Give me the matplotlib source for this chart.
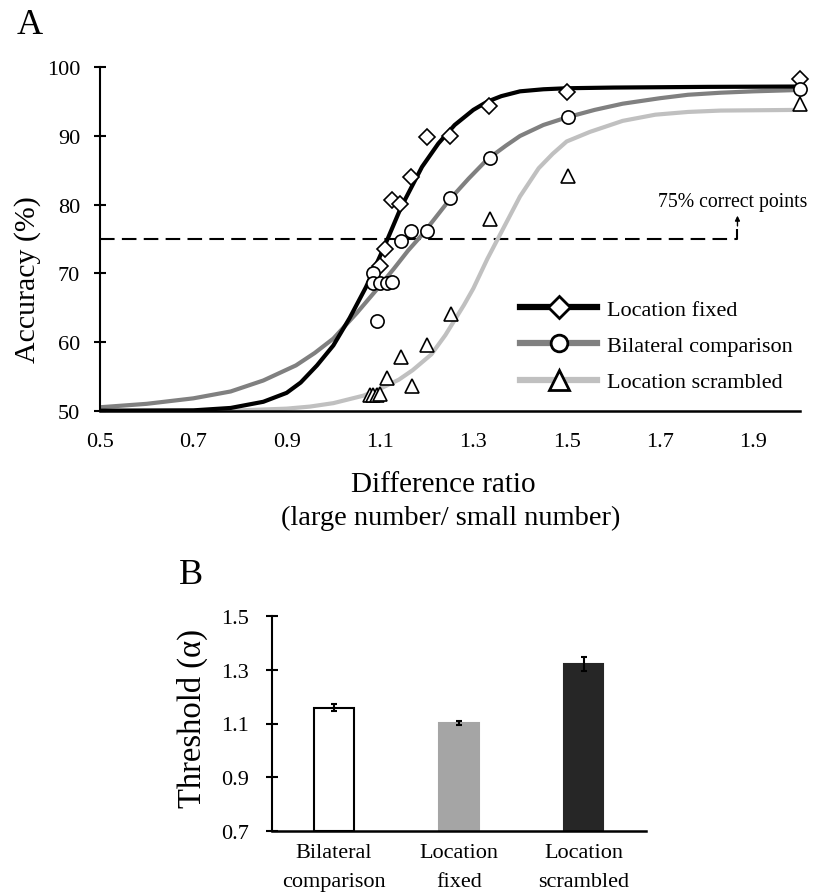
import matplotlib
matplotlib.use('Agg')
import matplotlib.pyplot as plt
from matplotlib.lines import Line2D

plt.rcParams['font.family'] = ['Liberation Serif', 'DejaVu Serif']

# --- panel A: observed accuracy per difference ratio ---
ratio_fixed = [1.100, 1.111, 1.125, 1.143, 1.167, 1.200, 1.250, 1.333, 1.500, 2.000]
acc_fixed = [71.0, 73.5, 80.7, 80.1, 84.1, 89.8, 90.0, 94.4, 96.4, 98.3]

ratio_bilat = [1.084, 1.086, 1.094, 1.101, 1.114, 1.126, 1.144, 1.167, 1.201, 1.251, 1.336, 1.502, 2.000]
acc_bilat = [70.0, 68.6, 63.1, 68.6, 68.6, 68.7, 74.7, 76.2, 76.2, 80.9, 86.8, 92.7, 96.9]

ratio_scram = [1.079, 1.086, 1.094, 1.101, 1.114, 1.144, 1.169, 1.201, 1.253, 1.336, 1.502, 2.000]
acc_scram = [52.3, 52.3, 52.3, 52.5, 54.7, 57.8, 53.6, 59.5, 64.1, 77.9, 84.2, 94.7]

# fitted psychometric curves
fit_fixed_x = [0.50, 0.70, 0.78, 0.85, 0.90, 0.93, 0.965, 1.00, 1.035, 1.07, 1.11, 1.145, 1.19,
               1.225, 1.26, 1.30, 1.33, 1.36, 1.40, 1.45, 1.50, 1.60, 1.70, 1.80, 2.00]
fit_fixed_y = [50.0, 50.05, 50.4, 51.3, 52.6, 54.1, 56.6, 59.5, 63.5, 68.0, 74.0, 79.6, 85.5,
               88.9, 91.6, 93.8, 95.0, 95.8, 96.5, 96.8, 96.95, 97.05, 97.1, 97.15, 97.2]

fit_bilat_x = [0.50, 0.60, 0.70, 0.78, 0.85, 0.92, 0.96, 1.00, 1.05, 1.09, 1.13, 1.16, 1.19, 1.22,
               1.25, 1.29, 1.33, 1.37, 1.40, 1.45, 1.50, 1.56, 1.62, 1.70, 1.76, 1.83, 1.90, 2.00]
fit_bilat_y = [50.5, 51.0, 51.8, 52.8, 54.4, 56.6, 58.4, 60.5, 64.2, 67.4, 70.7, 73.3, 75.6, 78.2,
               80.8, 83.8, 86.6, 88.6, 90.0, 91.6, 92.7, 93.8, 94.7, 95.5, 96.0, 96.3, 96.5, 96.7]

fit_scram_x = [0.50, 0.80, 0.90, 0.95, 1.00, 1.065, 1.10, 1.14, 1.17, 1.21, 1.24, 1.28, 1.30,
               1.33, 1.35, 1.38, 1.40, 1.44, 1.47, 1.50, 1.55, 1.62, 1.69, 1.76, 1.83, 2.00]
fit_scram_y = [50.0, 50.05, 50.3, 50.6, 51.1, 52.2, 53.2, 54.5, 55.9, 58.2, 61.0, 65.4, 67.8,
               72.1, 74.7, 78.6, 81.2, 85.3, 87.4, 89.2, 90.6, 92.2, 93.1, 93.5, 93.7, 93.8]

x_ticks = [0.5, 0.7, 0.9, 1.1, 1.3, 1.5, 1.7, 1.9]
y_ticks = [50, 60, 70, 80, 90, 100]

# --- panel B: thresholds ---
conditions = ['Bilateral\ncomparison', 'Location\nfixed', 'Location\nscrambled']
threshold = [1.159, 1.103, 1.323]
threshold_err = [0.012, 0.007, 0.026]
bar_colors = ['white', '#a5a5a5', '#262626']
b_ticks = [0.7, 0.9, 1.1, 1.3, 1.5]

W, H = 814, 895
fig = plt.figure(figsize=(W / 100, H / 100), dpi=100)

def fx(px):
    return px / W

def fy(py):
    return 1 - py / H

# ---------- panel A ----------
ax = fig.add_axes([fx(100), fy(411.7), fx(800) - fx(100), fy(68.3) - fy(411.7)])
ax.plot(fit_scram_x, fit_scram_y, color='#c0c0c0', lw=3.0, zorder=2, solid_capstyle='butt')
ax.plot(fit_bilat_x, fit_bilat_y, color='#808080', lw=3.0, zorder=2, solid_capstyle='butt')
ax.plot(fit_fixed_x, fit_fixed_y, color='black', lw=3.0, zorder=2, solid_capstyle='butt')

mk = dict(linestyle='none', markerfacecolor='white', markeredgecolor='black',
          markeredgewidth=1.2, zorder=4, clip_on=False)
ax.plot(ratio_fixed, acc_fixed, marker='D', markersize=7.8, **mk)
ax.plot(ratio_bilat, acc_bilat, marker='o', markersize=9.5, **mk)
ax.plot(ratio_scram, acc_scram, marker='^', markersize=10.5, **mk)

# 75% guide line with arrow
ax.plot([0.5, 1.866, 1.866], [75, 75, 76.4], color='black', lw=1.5,
        dashes=(7, 3.5), zorder=1, clip_on=False)
ax.annotate('', xy=(1.866, 78.4), xytext=(1.866, 76.9),
            arrowprops=dict(arrowstyle='-|>', color='black', lw=1, mutation_scale=7,
                            shrinkA=0, shrinkB=0), annotation_clip=False)
ax.text(1.695, 80.5, '75% correct points', fontsize=14.2, ha='left', va='center', clip_on=False)

ax.set_xlim(0.5, 2.0)
ax.set_ylim(50, 100)
ax.set_xticks(x_ticks)
ax.set_xticklabels([f'{v:.1f}' for v in x_ticks])
ax.set_yticks(y_ticks)
ax.spines['top'].set_visible(False)
ax.spines['right'].set_visible(False)
ax.spines['left'].set_linewidth(1.5)
ax.spines['bottom'].set_linewidth(1.8)
ax.tick_params(axis='x', length=0, pad=15, labelsize=16)
ax.tick_params(axis='y', direction='inout', length=8.5, width=1.5, pad=10, labelsize=16)

handles = [
    Line2D([], [], color='black', lw=4.5, marker='D', markersize=11.5,
           markerfacecolor='white', markeredgecolor='black', markeredgewidth=2),
    Line2D([], [], color='#808080', lw=4.5, marker='o', markersize=12,
           markerfacecolor='white', markeredgecolor='black', markeredgewidth=2),
    Line2D([], [], color='#c0c0c0', lw=4.5, marker='^', markersize=14,
           markerfacecolor='white', markeredgecolor='black', markeredgewidth=2),
]
labels = ['Location fixed', 'Bilateral comparison', 'Location scrambled']
fig.legend(handles, labels, loc='upper left', bbox_to_anchor=(fx(520), fy(300.5)),
           frameon=False, fontsize=16, handlelength=3.47, handletextpad=0.44,
           labelspacing=0.7, borderpad=0, borderaxespad=0)

fig.text(fx(28), fy(279.5), 'Accuracy (%)', rotation=90, fontsize=21.5, ha='center', va='center')
fig.text(fx(443), fy(485), 'Difference ratio', fontsize=21, ha='center', va='center')
fig.text(fx(451), fy(518), '(large number/ small number)', fontsize=20.5, ha='center', va='center')
fig.text(fx(30), fy(25), 'A', fontsize=26, ha='center', va='center')

# ---------- panel B ----------
bx = fig.add_axes([fx(271.7), fy(831.7), fx(646) - fx(271.7), fy(617.3) - fy(831.7)])
pos = range(len(conditions))
bx.bar(pos, [t - 0.7 for t in threshold], bottom=0.7, width=0.316, color=bar_colors,
       edgecolor=['black', '#a5a5a5', '#262626'], linewidth=1.5, zorder=2)
bx.errorbar(pos, threshold, yerr=threshold_err, fmt='none', ecolor='black',
            elinewidth=1.5, capsize=2.5, capthick=1.5, zorder=3)
bx.set_xlim(-0.5, 2.5)
bx.set_ylim(0.7, 1.5)
bx.set_yticks(b_ticks)
bx.set_yticklabels([f'{v:.1f}' for v in b_ticks])
bx.set_xticks(list(pos))
bx.set_xticklabels(conditions, linespacing=1.73)
bx.spines['top'].set_visible(False)
bx.spines['right'].set_visible(False)
bx.spines['left'].set_linewidth(1.5)
bx.spines['bottom'].set_linewidth(1.8)
bx.tick_params(axis='x', length=0, pad=9, labelsize=16)
bx.tick_params(axis='y', direction='inout', length=8.5, width=1.5, pad=12, labelsize=16)

fig.text(fx(192.5), fy(718), 'Threshold (\u03b1)', rotation=90, fontsize=23.5, ha='center', va='center')
fig.text(fx(190.5), fy(575), 'B', fontsize=26, ha='center', va='center')

fig.savefig('out.png', dpi=100)
